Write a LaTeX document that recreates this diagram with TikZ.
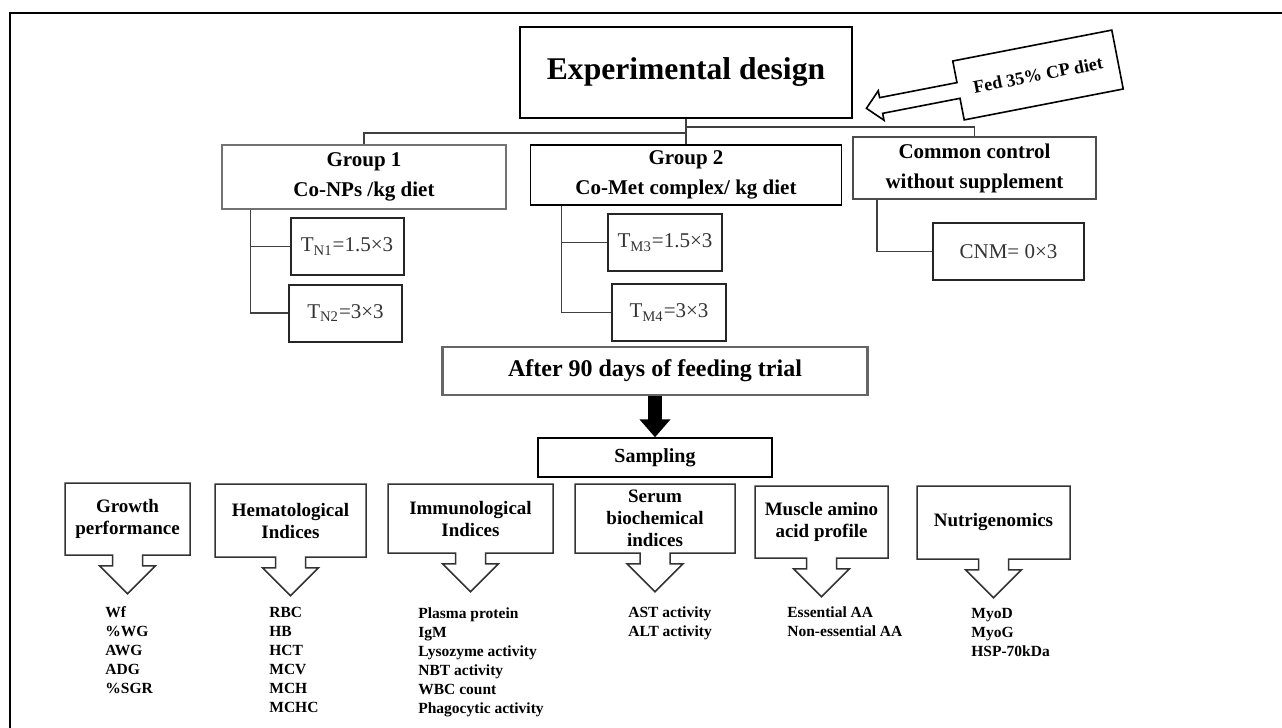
\documentclass[tikz,border=0pt]{standalone}
\usepackage{fontspec}
\setmainfont{Liberation Serif}
\usetikzlibrary{shapes,arrows.meta,positioning,calc}

\begin{document}
\begin{tikzpicture}[
    x=0.5pt, y=-0.5pt,
    conn/.style={draw=black!75, line width=0.7pt},
    grp/.style={rectangle, draw, line width=0.9pt, inner sep=0pt, align=center, font=\fontsize{10.5}{15}\selectfont\bfseries},
    trt/.style={rectangle, draw=black!85, line width=1pt, inner sep=0pt, minimum width=56.5pt, minimum height=28.5pt, text=black!80, font=\fontsize{10.5}{12}\selectfont},
    outcome/.style={arrow box, draw=black!80, line width=0.75pt, inner sep=0pt, align=center, arrow box arrows={south:19pt}, arrow box shaft width=15pt, arrow box head extend=6.5pt, font=\fontsize{9.5}{11}\selectfont\bfseries},
    lst/.style={anchor=north west, inner sep=0pt, align=left, font=\fontsize{7.75}{9.5}\selectfont\bfseries},
    bigarrow/.style={-{Triangle[width=15pt,length=9pt]}, line width=7pt}
]
\useasboundingbox (0,0) rectangle (1282,728);
\begin{scope}
\clip (0,0) rectangle (1282,728);
\draw[line width=1.2pt] (10,13) rectangle (1300,750);
\end{scope}

\node[rectangle, draw, line width=1.4pt, minimum width=166pt, minimum height=45.5pt, font=\fontsize{15.8}{18}\selectfont\bfseries] (design) at (686,72.5) {Experimental design};
\node[arrow box, draw, line width=0.8pt, rotate=11, inner sep=0pt, minimum width=81pt, minimum height=30pt, arrow box arrows={west:46.5pt}, arrow box shaft width=8pt, arrow box head extend=3.5pt, font=\fontsize{9}{11}\selectfont\bfseries] (fed) at (1038,75) {Fed 35\% CP diet};

\node[grp, draw=black!55, line width=0.6pt, minimum width=142pt, minimum height=32pt] (grp1) at (364,177) {Group 1\\Co-NPs /kg diet};
\node[grp, minimum width=155.5pt, minimum height=30pt] (grp2) at (686,175) {Group 2\\Co-Met complex/ kg diet};
\node[grp, draw=black!70, minimum width=121.5pt, minimum height=31pt] (ctrl) at (974.5,168) {Common control\\without supplement};

\node[trt] (tn1) at (347,246.5) {T\textsubscript{N1}=1.5×3};
\node[trt] (tn2) at (345.5,313) {T\textsubscript{N2}=3×3};
\node[trt, minimum width=57pt] (tm3) at (665,242.5) {T\textsubscript{M3}=1.5×3};
\node[trt, minimum width=57pt] (tm4) at (669,312.5) {T\textsubscript{M4}=3×3};
\node[trt, minimum width=75.5pt] (cnm) at (1008.5,251.5) {CNM= 0×3};

\node[rectangle, draw=black!60, line width=1.2pt, minimum width=212.5pt, minimum height=24pt, font=\fontsize{12}{14}\selectfont\bfseries] (trial) at (655,371) {After 90 days of feeding trial};
\node[rectangle, draw, line width=0.7pt, minimum width=117pt, minimum height=19.5pt, font=\fontsize{10}{12}\selectfont\bfseries] (samp) at (655,457.5) {Sampling};

\node[outcome, minimum width=62.5pt, minimum height=36pt] (growth) at (127.5,519) {Growth\\performance};
\node[outcome, minimum width=75.5pt, minimum height=36.5pt] (hemat) at (290.5,520.5) {Hematological\\Indices};
\node[outcome, minimum width=82.5pt, minimum height=34.5pt] (immun) at (470.5,518.5) {Immunological\\Indices};
\node[outcome, minimum width=80pt, minimum height=34.5pt] (serum) at (655,518.5) {Serum\\biochemical\\indices};
\node[outcome, minimum width=66.5pt, minimum height=36pt] (muscle) at (821.5,522) {Muscle amino\\acid profile};
\node[outcome, minimum width=76.5pt, minimum height=36.5pt] (nutri) at (993.5,522.5) {Nutrigenomics};

\node[lst] (growthlst) at (105,606) {Wf\\\%WG\\AWG\\ADG\\\%SGR};
\node[lst] (hematlst) at (269,607) {RBC\\HB\\HCT\\MCV\\MCH\\MCHC};
\node[lst] (immunlst) at (418,607) {Plasma protein\\IgM\\Lysozyme activity\\NBT activity\\WBC count\\Phagocytic activity};
\node[lst] (serumlst) at (628,606) {AST activity\\ALT activity};
\node[lst] (musclelst) at (787,606) {Essential AA\\Non-essential AA};
\node[lst] (nutrilst) at (971,608) {MyoD\\MyoG\\HSP-70kDa};

\draw[conn] (design.south) -- (grp2.north);
\draw[conn] (grp1.north) |- ($(design.south)!0.55!(grp2.north)$);
\draw[conn] (ctrl.north) |- ($(design.south)!0.3!(grp2.north)$);
\coordinate (g1bus) at ($(grp1.south west)+(29,0)$);
\coordinate (g2bus) at ($(grp2.south west)+(32,0)$);
\coordinate (ctrlbus) at ($(ctrl.south west)+(25,0)$);
\draw[conn] (g1bus) |- (tn1.west);
\draw[conn] (g1bus) |- (tn2.west);
\draw[conn] (g2bus) |- (tm3.west);
\draw[conn] (g2bus) |- (tm4.west);
\draw[conn] (ctrlbus) |- (cnm.west);
\draw[bigarrow] (trial.south) -- (samp.north);
\end{tikzpicture}
\end{document}
